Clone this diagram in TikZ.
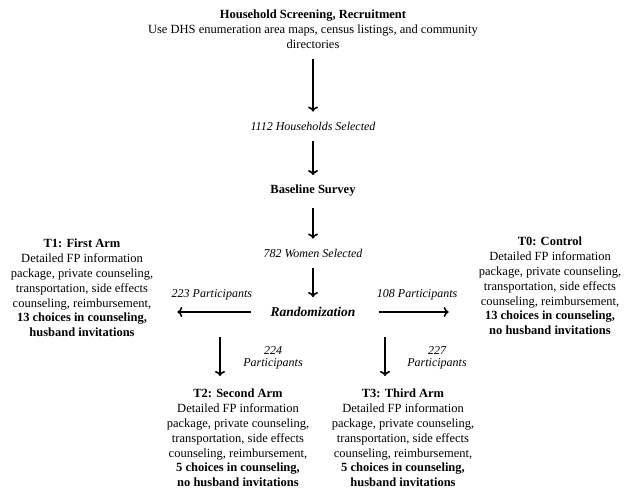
\documentclass[tikz,border=0pt]{standalone}
\usepackage{fontspec}
\setmainfont{Liberation Serif}
\usetikzlibrary{arrows.meta}
\begin{document}
\begin{tikzpicture}[x=1pt,y=-1pt]
    \tikzset{
        txt/.style={align=center, inner sep=1pt, font=\fontsize{12.5}{14.8}\selectfont},
        lbl/.style={align=center, inner sep=1pt, font=\fontsize{12}{12.5}\selectfont\itshape},
        arr/.style={line width=1.6pt, -{To[length=5pt,width=10pt]}}
    }
    \useasboundingbox (0,0) rectangle (626,492);

    \draw node[txt] (screen) at (313,29) {\textbf{Household Screening, Recruitment}\\Use DHS enumeration area maps, census listings, and community\\directories};
    \draw node[lbl] (hh) at (313,126) {1112 Households Selected};
    \draw node[txt] (base) at (313,191) {\textbf{Baseline Survey}};
    \draw node[lbl] (women) at (313,253) {782 Women Selected};
    \draw node[txt, font=\fontsize{13.5}{15}\selectfont] (rand) at (313,312) {\textbf{\itshape Randomization}};

    \draw node[txt] (t1) at (82,288) {\textbf{T1: First Arm}\\Detailed FP information\\package, private counseling,\\transportation, side effects\\counseling, reimbursement,\\\textbf{13 choices in counseling,}\\\textbf{husband invitations}};
    \draw node[txt] (t0) at (550,286) {\textbf{T0: Control}\\Detailed FP information\\package, private counseling,\\transportation, side effects\\counseling, reimbursement,\\\textbf{13 choices in counseling,}\\\textbf{no husband invitations}};
    \draw node[txt] (t2) at (238,438) {\textbf{T2: Second Arm}\\Detailed FP information\\package, private counseling,\\transportation, side effects\\counseling, reimbursement,\\\textbf{5 choices in counseling,}\\\textbf{no husband invitations}};
    \draw node[txt] (t3) at (403,438) {\textbf{T3: Third Arm}\\Detailed FP information\\package, private counseling,\\transportation, side effects\\counseling, reimbursement,\\\textbf{5 choices in counseling,}\\\textbf{husband invitations}};

    \coordinate (c2) at (220,337);
    \coordinate (c3) at (385,337);

    \foreach \x/\y in {%
        screen/hh,hh/base,base/women,women/rand%
    }{
    \draw[arr, shorten <=10pt, shorten >=9pt] (\x) -- (\y);
    }
    \draw[arr, shorten <=18pt, shorten >=23pt] (rand) -- node[lbl, above=10pt] (n223) {223 Participants} (rand -| t1.east);
    \draw[arr, shorten <=22pt, shorten >=29pt] (rand) -- node[lbl, above=10pt] (n108) {108 Participants} (rand -| t0.west);
    \draw[arr, shorten >=12pt] (c2) -- (c2 |- t2.north);
    \draw[arr, shorten >=12pt] (c3) -- (c3 |- t3.north);
    \draw node[lbl] (n224) at (273,358) {224\\Participants};
    \draw node[lbl] (n227) at (437,358) {227\\Participants};
\end{tikzpicture}
\end{document}
